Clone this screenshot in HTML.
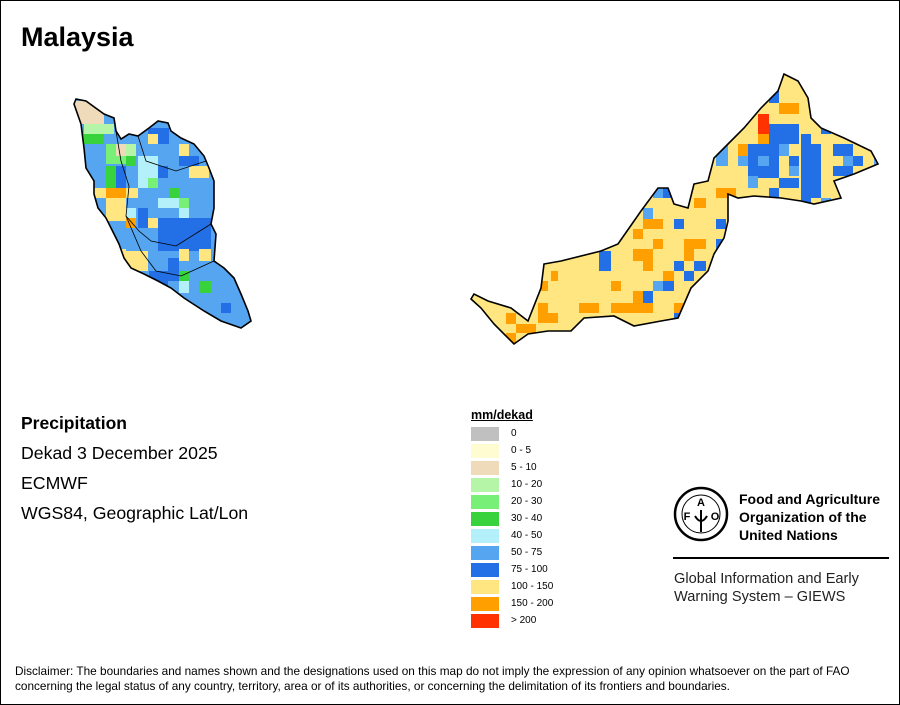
<!DOCTYPE html>
<html><head><meta charset="utf-8"><style>
body{margin:0;background:#fff}
#page{position:relative;width:898px;height:703px;border:1px solid #000;overflow:hidden;font-family:"Liberation Sans",sans-serif;background:#fff}
.t{position:absolute;white-space:nowrap;color:#000}
</style></head><body>
<div id="page">
<div class="t" style="left:20px;top:21px;font-size:27px;font-weight:bold">Malaysia</div>
<div class="t" style="left:20px;top:412px;font-size:17.5px;font-weight:bold">Precipitation</div>
<div class="t" style="left:20px;top:442px;font-size:17.7px">Dekad 3 December 2025</div>
<div class="t" style="left:20px;top:472px;font-size:17.7px">ECMWF</div>
<div class="t" style="left:20px;top:502px;font-size:17.7px">WGS84, Geographic Lat/Lon</div>
<svg id="map" width="898" height="703" style="position:absolute;left:0;top:0">
<defs>
<clipPath id="penClip"><polygon id="penPoly" points="75,98 85,100 103,113 113,117 115,130 120,138 128,133 137,135 148,127 157,120 167,122 170,130 180,137 193,143 203,155 208,167 213,180 213,207 210,223 215,233 213,260 223,267 233,277 240,293 247,310 250,320 240,327 220,320 203,310 183,297 170,287 157,280 143,273 130,267 123,257 118,243 110,227 105,217 97,207 93,193 93,180 85,167 83,147 80,123 73,103"/></clipPath>
<clipPath id="borClip"><polygon id="borPoly" points="470,298 480,307 493,323 503,333 513,343 527,333 547,330 570,330 583,317 613,315 633,325 660,320 677,317 690,287 707,270 713,253 723,237 727,220 727,193 737,197 753,195 780,197 800,200 813,203 840,197 833,180 853,173 877,163 870,150 843,137 820,127 810,117 807,97 797,80 783,73 777,90 760,107 743,127 727,143 713,157 707,180 693,183 687,207 673,203 667,187 657,187 640,210 617,243 600,250 560,260 543,263 540,287 527,320 510,307 487,300 473,293"/></clipPath>
</defs>
<g id="pen" clip-path="url(#penClip)"><rect x="60" y="90" width="200" height="250" fill="#55a5f0"/></g>
<g id="bor" clip-path="url(#borClip)"><rect x="460" y="60" width="430" height="300" fill="#ffe680"/></g>
<polygon points="75,98 85,100 103,113 113,117 115,130 120,138 128,133 137,135 148,127 157,120 167,122 170,130 180,137 193,143 203,155 208,167 213,180 213,207 210,223 215,233 213,260 223,267 233,277 240,293 247,310 250,320 240,327 220,320 203,310 183,297 170,287 157,280 143,273 130,267 123,257 118,243 110,227 105,217 97,207 93,193 93,180 85,167 83,147 80,123 73,103" fill="none" stroke="#000" stroke-width="1.6"/>
<polygon points="470,298 480,307 493,323 503,333 513,343 527,333 547,330 570,330 583,317 613,315 633,325 660,320 677,317 690,287 707,270 713,253 723,237 727,220 727,193 737,197 753,195 780,197 800,200 813,203 840,197 833,180 853,173 877,163 870,150 843,137 820,127 810,117 807,97 797,80 783,73 777,90 760,107 743,127 727,143 713,157 707,180 693,183 687,207 673,203 667,187 657,187 640,210 617,243 600,250 560,260 543,263 540,287 527,320 510,307 487,300 473,293" fill="none" stroke="#000" stroke-width="1.6"/>
<g stroke="#000" stroke-width="0.8" fill="none">
<polyline points="115,130 120,160 128,185 125,215 138,230 150,240 175,245 210,223"/>
<polyline points="137,135 145,160 175,170 205,160"/>
<polyline points="125,215 140,250 155,270 180,275 213,260"/>
</g>
</svg>
<div>
<div class="t" style="left:470px;top:407px;font-size:12.5px;font-weight:bold;text-decoration:underline">mm/dekad</div>
<div id="legendItems"></div>
</div>
<svg width="60" height="60" style="position:absolute;left:670px;top:483px">
<circle cx="30" cy="30" r="26" fill="none" stroke="#000" stroke-width="2.5"/>
<circle cx="30" cy="30" r="19" fill="none" stroke="#000" stroke-width="1"/>
<text x="30" y="22" font-size="11" font-weight="bold" text-anchor="middle" font-family="Liberation Sans">A</text>
<text x="16" y="36" font-size="11" font-weight="bold" text-anchor="middle" font-family="Liberation Sans">F</text>
<text x="44" y="36" font-size="11" font-weight="bold" text-anchor="middle" font-family="Liberation Sans">O</text>
<path d="M30 26 L30 48 M24 32 Q30 42 36 32" stroke="#000" stroke-width="2" fill="none"/>
</svg>
<div class="t" style="left:738px;top:489px;font-size:14px;font-weight:bold;line-height:18px">Food and Agriculture<br>Organization of the<br>United Nations</div>
<div style="position:absolute;left:672px;top:556px;width:216px;height:2px;background:#000"></div>
<div class="t" style="left:673px;top:569px;font-size:14.6px;line-height:18px;color:#222">Global Information and Early<br>Warning System – GIEWS</div>
<div class="t" style="left:14px;top:663px;font-size:11.8px;line-height:15px">Disclaimer: The boundaries and names shown and the designations used on this map do not imply the expression of any opinion whatsoever on the part of FAO<br>concerning the legal status of any country, territory, area or of its authorities, or concerning the delimitation of its frontiers and boundaries.</div>
</div>
<script>
const legendLabels=["0","0 - 5","5 - 10","10 - 20","20 - 30","30 - 40","40 - 50","50 - 75","75 - 100","100 - 150","150 - 200","> 200"];
const legendColors=["#c0c0c0","#fffcd2","#efdbb9","#b4f5a8","#78f078","#37d23c","#b4f0fa","#55a5f0","#2370e6","#ffe680","#ffa000","#ff3200"];
// cells: [x0,y0,x1,y1,classIndex]
const penCells=[[73,100,103,123,2],[83,123,113,133,3],[83,133,103,143,5],[105,143,127,163,4],[115,143,125,155,2],[125,143,135,155,3],[125,155,135,165,5],[105,165,115,187,5],[137,155,157,187,6],[93,187,105,197,9],[105,187,125,197,10],[105,197,125,220,9],[125,187,137,197,9],[115,165,125,187,8],[157,165,167,177,8],[137,207,147,227,8],[157,217,210,250,8],[147,127,168,143,8],[178,155,198,165,8],[147,133,157,143,9],[178,143,188,155,9],[188,165,208,177,9],[147,217,157,227,9],[178,248,188,260,9],[198,248,210,260,9],[115,248,125,260,9],[125,250,147,270,9],[125,217,135,227,10],[147,177,157,187,4],[168,187,178,197,5],[178,197,188,207,4],[157,197,178,207,6],[178,207,188,217,6],[178,280,188,292,6],[125,207,135,217,6],[167,257,178,280,8],[148,270,167,290,8],[178,270,188,280,5],[198,280,210,292,5],[220,302,230,312,8]];
const borCells=[[757,113,768,133,11],[778,102,798,113,10],[757,133,768,143,10],[737,143,747,155,10],[715,187,735,197,10],[693,197,705,207,10],[642,218,662,228,10],[632,228,642,238,10],[652,238,662,248,10],[683,238,705,248,10],[683,248,693,260,10],[632,248,652,260,10],[642,260,652,270,10],[662,270,673,280,10],[610,280,620,290,10],[632,290,642,302,10],[578,302,598,312,10],[610,302,652,312,10],[673,302,683,312,10],[537,302,547,322,10],[537,312,557,322,10],[515,323,535,332,10],[505,312,515,323,10],[505,332,515,343,10],[550,270,557,280,10],[540,280,547,290,10],
[768,123,798,143,8],[747,143,768,177,8],[768,143,788,155,8],[800,133,810,207,8],[810,143,820,197,8],[788,155,798,165,8],[768,155,778,177,8],[778,177,798,187,8],[768,187,778,197,8],[832,143,852,155,8],[852,155,862,165,8],[832,165,852,175,8],[768,80,778,102,8],[820,123,830,133,8],[673,218,683,228,8],[715,218,725,228,8],[715,238,725,248,8],[598,250,610,270,8],[673,260,683,270,8],[693,260,705,270,8],[683,270,693,280,8],[662,280,673,290,8],[642,290,652,302,8],[673,312,683,322,8],[662,187,673,197,8],
[652,280,662,290,7],[737,155,747,165,7],[757,155,768,165,7],[778,143,788,155,7],[788,165,798,175,7],[747,175,757,187,7],[842,155,852,165,7],[873,155,883,165,7],[715,143,727,165,7],[642,207,652,218,7],[652,187,662,197,7],[820,197,830,207,7]];
const NS="http://www.w3.org/2000/svg";
function drawCells(gid,cells){
  const g=document.getElementById(gid);
  cells.forEach(c=>{
    const r=document.createElementNS(NS,"rect");
    r.setAttribute("x",c[0]);r.setAttribute("y",c[1]);
    r.setAttribute("width",c[2]-c[0]);r.setAttribute("height",c[3]-c[1]);
    r.setAttribute("fill",legendColors[c[4]]);
    
    
    g.appendChild(r);
  });
}
drawCells("pen",penCells);
drawCells("bor",borCells);
const li=document.getElementById("legendItems");
legendLabels.forEach((l,i)=>{
  const s=document.createElement("div");
  s.style.cssText="position:absolute;left:470px;width:28px;height:14px;top:"+(426+i*17)+"px;background:"+legendColors[i];
  
  
  li.appendChild(s);
  const t=document.createElement("div");
  t.className="t";
  t.style.cssText="left:510px;font-size:10px;top:"+(427+i*17)+"px";
  t.textContent=l;
  
  
  li.appendChild(t);
});
</script>
</body></html>
